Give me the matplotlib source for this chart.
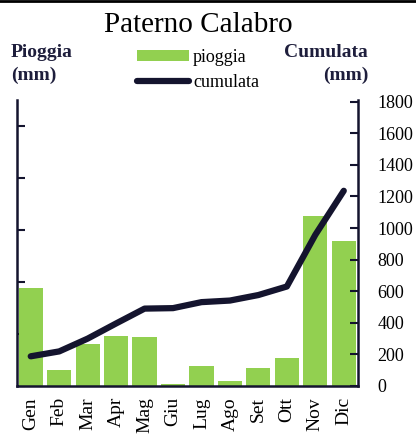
import matplotlib
matplotlib.use("Agg")
import matplotlib.pyplot as plt
from matplotlib.lines import Line2D
from matplotlib.patches import Patch

months = ["Gen", "Feb", "Mar", "Apr", "Mag", "Giu", "Lug", "Ago", "Set", "Ott", "Nov", "Dic"]
pioggia = [188, 31, 81, 96, 94, 3, 38, 10, 35, 54, 327, 279]
cumulata = [188, 219, 300, 396, 490, 493, 531, 541, 576, 630, 957, 1236]
right_ticks = [0, 200, 400, 600, 800, 1000, 1200, 1400, 1600, 1800]
left_ticks = [0, 100, 200, 300, 400, 500]

plt.rcParams['font.family'] = ['Liberation Serif', 'DejaVu Serif']
GREEN = "#92d050"
NAVY = "#14142e"

fig = plt.figure(figsize=(4.16, 4.34), dpi=100)
W, H = 416, 434
ax = fig.add_axes([16.5 / W, 1 - 386 / H, (358 - 16.5) / W, (386 - 100) / H])
x = list(range(len(months)))
ax.bar(x, pioggia, width=0.85, color=GREEN, zorder=2)
ax.set_xlim(-0.5, 11.5)
ax.set_ylim(0, 550)
ax.set_yticks(left_ticks)
ax.set_yticklabels([])
ax.set_xticks(x)
ax.set_xticklabels(months, rotation=90, fontsize=14)
ax.tick_params(axis='x', length=0, pad=8)
ax.tick_params(axis='y', direction='in', length=6, width=1.5, color=NAVY)
for s in ['left', 'bottom']:
    ax.spines[s].set_color(NAVY)
    ax.spines[s].set_linewidth(1.8)
ax.spines['top'].set_visible(False)
ax.spines['right'].set_visible(False)

ax2 = ax.twinx()
ax2.plot(x, cumulata, color=NAVY, lw=4.5, solid_capstyle='round', zorder=3)
ax2.set_ylim(0, 1800 * 1.006)
ax2.set_yticks(right_ticks)
ax2.set_yticklabels([str(t) for t in right_ticks], fontsize=13)
ax2.tick_params(axis='y', direction='in', length=6, width=1.5, color=NAVY, pad=14)
for s in ['left', 'bottom', 'top']:
    ax2.spines[s].set_visible(False)
ax2.spines['right'].set_color(NAVY)
ax2.spines['right'].set_linewidth(1.8)

fig.text(198 / W, 1 - 25 / H, "Paterno Calabro", ha='center', va='center', fontsize=21)
fig.text(11 / W, 1 - 64 / H, "Pioggia\n(mm)", ha='left', va='center', fontsize=14,
         fontweight='bold', color='#1e1e3c', linespacing=1.4)
fig.text(368 / W, 1 - 64 / H, "Cumulata\n(mm)", ha='right', va='center', fontsize=14,
         fontweight='bold', color='#1e1e3c', linespacing=1.4, multialignment='right')

handles = [Patch(facecolor=GREEN, edgecolor='none'),
           Line2D([0], [0], color=NAVY, lw=4.5, solid_capstyle='round')]
fig.legend(handles, ["pioggia", "cumulata"], loc='center', bbox_to_anchor=(198 / W, 1 - 70 / H),
           frameon=False, fontsize=13, handlelength=2.9, handleheight=0.55, handletextpad=0.2,
           labelspacing=0.45)

fig.add_artist(Line2D([0, 1], [1 - 0.8 / H, 1 - 0.8 / H], color='black', lw=2, transform=fig.transFigure))

fig.savefig("out.png", dpi=100)
